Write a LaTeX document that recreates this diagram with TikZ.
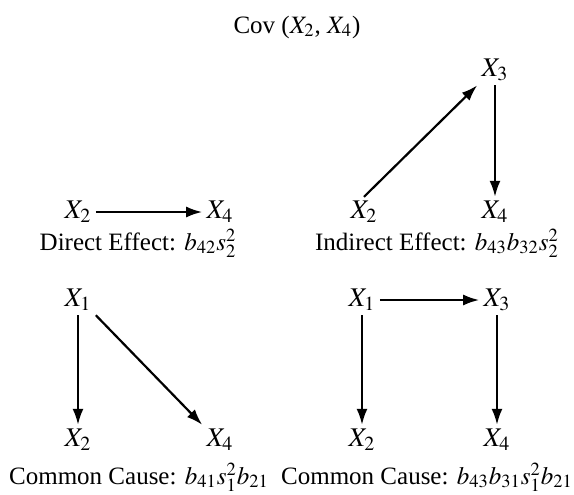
\documentclass[tikz,border=0pt]{standalone}
\usepackage{mathptmx}
\usepackage{fontspec}
\setmainfont{Liberation Serif}
\usetikzlibrary{arrows.meta, positioning}

\begin{document}
\begin{tikzpicture}[x=0.5pt, y=-0.5pt,
  font=\fontsize{12.5}{15}\selectfont,
  var/.style={inner sep=2pt, font=\fontsize{13.5}{16}\selectfont},
  caption/.style={inner sep=0pt},
  ar/.style={-{Latex[length=8pt, width=5.5pt]}, line width=1.1pt},
]
\useasboundingbox (0,0) rectangle (574,494);
\node (title) at (297,27) {Cov ($X_2$, $X_4$)};

% direct effect
\node[var] (dx2) at (78,212) {$X_2$};
\node[var] (dx4) at (220,212) {$X_4$};
\node[caption] (dlab) at (138,243) {Direct Effect: $b_{42}s_2^2$};

% indirect effect
\node[var] (ix3) at (495,70) {$X_3$};
\node[var] (ix2) at (364,212) {$X_2$};
\node[var] (ix4) at (495,212) {$X_4$};
\node[caption] (ilab) at (437,243) {Indirect Effect: $b_{43}b_{32}s_2^2$};

% common cause, one path
\node[var] (ax1) at (78,300) {$X_1$};
\node[var] (ax2) at (78,440) {$X_2$};
\node[var] (ax4) at (220,440) {$X_4$};
\node[caption] (alab) at (139,477) {Common Cause: $b_{41}s_1^2b_{21}$};

% common cause, two paths
\node[var] (bx1) at (362,300) {$X_1$};
\node[var] (bx3) at (497,300) {$X_3$};
\node[var] (bx2) at (362,440) {$X_2$};
\node[var] (bx4) at (497,440) {$X_4$};
\node[caption] (blab) at (427,477) {Common Cause: $b_{43}b_{31}s_1^2b_{21}$};

\foreach \a/\b in {dx2/dx4, ix3/ix4, ax1/ax2, bx1/bx3, bx1/bx2, bx3/bx4}
  \draw[ar] (\a) -- (\b);
\draw[ar] (ix2.north) -- (ix3.south west);
\draw[ar] (ax1.south east) -- (ax4.north west);
\end{tikzpicture}
\end{document}
